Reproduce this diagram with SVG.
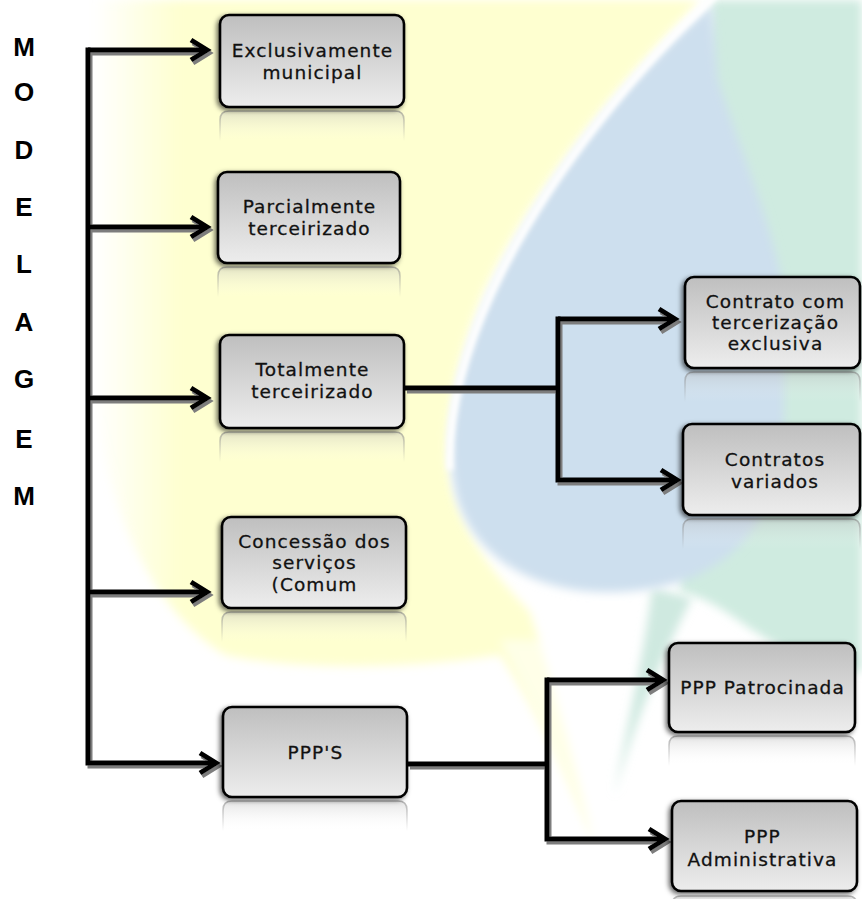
<svg xmlns="http://www.w3.org/2000/svg" width="862" height="899" viewBox="0 0 862 899">
<defs>
<style>
.box{fill:url(#boxg);stroke:#000;stroke-width:2.6;filter:url(#bsh)}
.refl{fill:url(#reflf);stroke:url(#refls);stroke-width:1.6}
.lbl{font-family:"DejaVu Sans","Verdana",sans-serif;font-size:18.5px;letter-spacing:1.1px;fill:#111;stroke:#111;stroke-width:0.3px;text-anchor:middle}
.side{font-family:"Liberation Sans",Arial,sans-serif;font-size:26px;font-weight:bold;fill:#000;text-anchor:middle}
.con{fill:none;stroke:#000;stroke-width:5;stroke-linejoin:miter}
.arr{marker-end:url(#arr)}
</style>
<linearGradient id="boxg" x1="0" y1="0" x2="0" y2="1">
<stop offset="0" stop-color="#bfbfbf"/><stop offset="1" stop-color="#ededed"/>
</linearGradient>
<linearGradient id="reflf" x1="0" y1="0" x2="0" y2="1">
<stop offset="0" stop-color="#b0b0b0" stop-opacity="0.35"/><stop offset="1" stop-color="#ffffff" stop-opacity="0"/>
</linearGradient>
<linearGradient id="refls" x1="0" y1="0" x2="0" y2="1">
<stop offset="0" stop-color="#888" stop-opacity="0.6"/><stop offset="1" stop-color="#888" stop-opacity="0"/>
</linearGradient>
<linearGradient id="yg" gradientUnits="userSpaceOnUse" x1="95" y1="0" x2="180" y2="0">
<stop offset="0" stop-color="#feffd0" stop-opacity="0"/><stop offset="1" stop-color="#feffd0"/>
</linearGradient>
<filter id="soft" filterUnits="userSpaceOnUse" x="-50" y="-50" width="962" height="999">
<feGaussianBlur stdDeviation="5"/>
</filter>
<filter id="soft2" filterUnits="userSpaceOnUse" x="-50" y="-50" width="962" height="999">
<feGaussianBlur stdDeviation="2.5"/>
</filter>
<filter id="bsh" filterUnits="userSpaceOnUse" x="0" y="0" width="862" height="899">
<feDropShadow dx="-2" dy="2" stdDeviation="2.5" flood-color="#000" flood-opacity="0.6"/>
</filter>
<filter id="lsh" filterUnits="userSpaceOnUse" x="0" y="0" width="862" height="899">
<feOffset in="SourceAlpha" dx="2" dy="3" result="o"/>
<feGaussianBlur in="o" stdDeviation="0.7" result="b"/>
<feFlood flood-color="#7d7d7d"/>
<feComposite in2="b" operator="in" result="s"/>
<feMerge><feMergeNode in="s"/><feMergeNode in="SourceGraphic"/></feMerge>
</filter>
<marker id="arr" markerUnits="userSpaceOnUse" markerWidth="40" markerHeight="40" refX="20" refY="14" orient="auto" overflow="visible">
<path d="M4,4 L20,14 L4,24" fill="none" stroke="#000" stroke-width="5" stroke-linejoin="miter"/>
</marker>
</defs>

<rect width="862" height="899" fill="#ffffff"/>

<g id="background">
<path filter="url(#soft)" fill="url(#yg)" d="M95,0 L700,0 C625,75 535,180 482,295 C452,370 440,440 452,490 C468,545 505,585 530,612 C552,680 575,760 594,842 C572,790 540,715 500,655 C420,668 300,672 225,655 C150,610 100,500 95,380 Z"/>
<path filter="url(#soft)" fill="#ffffff" fill-opacity="0.5" d="M500,640 C530,700 560,770 600,850 L640,850 L640,640 Z"/>
<path filter="url(#soft)" fill="#cfebe0" d="M712,0 L862,0 L862,672 C825,668 780,650 745,625 C720,607 700,595 680,592 L680,300 Z"/>
<path filter="url(#soft)" fill="#cfe9e0" d="M652,588 C645,650 628,720 614,796 C632,730 660,660 692,598 Z"/>
<path filter="url(#soft)" fill="#cddfee" d="M712,5 C640,65 545,175 490,295 C455,375 443,440 456,495 C472,555 530,590 600,592 C660,593 705,580 740,545 C772,510 784,465 784,410 L784,290 C768,210 740,150 718,80 Z"/>
<path filter="url(#soft2)" fill="none" stroke="#ffffff" stroke-width="7" d="M716,-5 C645,60 548,172 492,292 C460,362 448,420 450,470"/>
</g>

<g id="title">
<text class="side" x="24" y="56">M</text>
<text class="side" x="24" y="101">O</text>
<text class="side" x="24" y="159">D</text>
<text class="side" x="24" y="216">E</text>
<text class="side" x="24" y="273">L</text>
<text class="side" x="24" y="331">A</text>
<text class="side" x="24" y="388">G</text>
<text class="side" x="24" y="448">E</text>
<text class="side" x="24" y="505">M</text>
</g>

<g id="connectors" filter="url(#lsh)">
<path class="con" d="M88,47.5 V763 H216" marker-end="url(#arr)"/>
<path class="con arr" d="M88,50 H207"/>
<path class="con arr" d="M88,227 H207"/>
<path class="con arr" d="M88,398 H207"/>
<path class="con arr" d="M88,592 H207"/>
<path class="con" d="M405,388 H558"/>
<path class="con arr" d="M558,316.5 V480 H677"/>
<path class="con arr" d="M558,319 H675"/>
<path class="con" d="M408,764 H547"/>
<path class="con arr" d="M547,677.5 V839 H665"/>
<path class="con arr" d="M547,680 H663"/>
</g>

<g id="node-exclusivamente">
<path class="refl" d="M220,141 V120 Q220,111 229,111 H395 Q404,111 404,120 V141"/>
<rect class="box" x="220" y="15" width="184" height="92" rx="9"/>
<text class="lbl" x="312.5" y="57">Exclusivamente</text>
<text class="lbl" x="312.5" y="79">municipal</text>
</g>

<g id="node-parcialmente">
<path class="refl" d="M218,297 V276 Q218,267 227,267 H391 Q400,267 400,276 V297"/>
<rect class="box" x="218" y="172" width="182" height="91" rx="9"/>
<text class="lbl" x="309.5" y="213">Parcialmente</text>
<text class="lbl" x="309.5" y="235">terceirizado</text>
</g>

<g id="node-totalmente">
<path class="refl" d="M220,462 V441 Q220,432 229,432 H395 Q404,432 404,441 V462"/>
<rect class="box" x="220" y="335" width="184" height="93" rx="9"/>
<text class="lbl" x="312.5" y="376">Totalmente</text>
<text class="lbl" x="312.5" y="398">terceirizado</text>
</g>

<g id="node-concessao">
<path class="refl" d="M222,642 V621 Q222,612 231,612 H397 Q406,612 406,621 V642"/>
<rect class="box" x="222" y="517" width="184" height="91" rx="9"/>
<text class="lbl" x="314.5" y="548">Concessão dos</text>
<text class="lbl" x="314.5" y="569">serviços</text>
<text class="lbl" x="314.5" y="591">(Comum</text>
</g>

<g id="node-ppps">
<path class="refl" d="M223,831 V810 Q223,801 232,801 H398 Q407,801 407,810 V831"/>
<rect class="box" x="223" y="707" width="184" height="90" rx="9"/>
<text class="lbl" x="315.5" y="759">PPP'S</text>
</g>

<g id="node-contrato-exclusiva">
<path class="refl" d="M685,402 V381 Q685,372 694,372 H851 Q860,372 860,381 V402"/>
<rect class="box" x="685" y="277" width="175" height="91" rx="9"/>
<text class="lbl" x="775.5" y="308">Contrato com</text>
<text class="lbl" x="775.5" y="329">tercerização</text>
<text class="lbl" x="775.5" y="350">exclusiva</text>
</g>

<g id="node-contratos-variados">
<path class="refl" d="M683,549 V528 Q683,519 692,519 H851 Q860,519 860,528 V549"/>
<rect class="box" x="683" y="424" width="177" height="91" rx="9"/>
<text class="lbl" x="775" y="466">Contratos</text>
<text class="lbl" x="775" y="488">variados</text>
</g>

<g id="node-ppp-patrocinada">
<path class="refl" d="M669,766 V745 Q669,736 678,736 H846 Q855,736 855,745 V766"/>
<rect class="box" x="669" y="643" width="186" height="89" rx="9"/>
<text class="lbl" x="762.5" y="694">PPP Patrocinada</text>
</g>

<g id="node-ppp-administrativa">
<path class="refl" d="M672,920 V905 Q672,896 681,896 H848 Q857,896 857,905 V920"/>
<rect class="box" x="672" y="801" width="185" height="90" rx="9"/>
<text class="lbl" x="762.5" y="843">PPP</text>
<text class="lbl" x="762.5" y="866">Administrativa</text>
</g>
</svg>
